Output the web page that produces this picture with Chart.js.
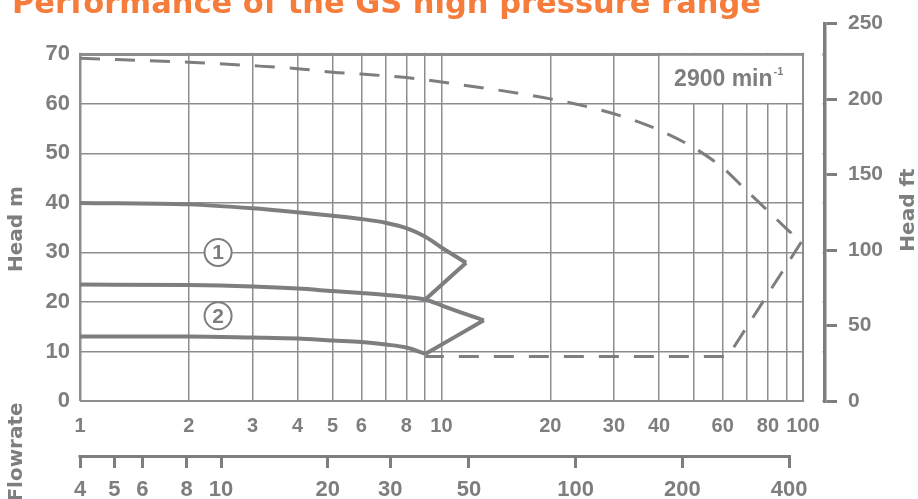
<!DOCTYPE html>
<html>
<head>
<meta charset="utf-8">
<style>
  html, body { margin: 0; padding: 0; background: #fff; }
</style>
<script src="https://cdn.jsdelivr.net/npm/chart.js@4.4.0/dist/chart.umd.min.js"></script>
</head>
<body>
<canvas id="grafico" width="918" height="499"></canvas>
<script>
// caudal (escala superior) y altura en m
const curva1Q = [1, 2, 3, 4, 5, 6, 7, 8, 9, 10, 11.7];
const curva1H = [40, 39.7, 38.9, 38.1, 37.4, 36.75, 36.0, 34.9, 33.2, 31.0, 27.9];
const rama1Q = [11.7, 9.02];
const rama1H = [27.9, 20.5];
const curva2Q = [1, 2, 3, 4, 5, 6, 8, 9.02, 10, 11.3, 13.1];
const curva2H = [23.5, 23.4, 23.1, 22.7, 22.2, 21.8, 21.0, 20.5, 19.3, 17.9, 16.3];
const rama2Q = [13.1, 9.02];
const rama2H = [16.3, 9.5];
const curva3Q = [1, 2, 3, 4, 5, 6, 7, 8, 9.02];
const curva3H = [13.0, 13.0, 12.8, 12.6, 12.2, 11.9, 11.4, 10.8, 9.5];
const limiteQ = [1, 2, 3, 4, 5, 6, 8, 10, 20, 30, 40, 50, 60, 70, 80, 90, 99];
const limiteH = [69.2, 68.4, 67.7, 67.1, 66.4, 66.0, 65.3, 64.4, 61.0, 58.0, 54.7, 51.1, 47.1, 42.4, 38.4, 34.8, 32.1];
const limiteBajoQ = [99, 62, 9.02];
const limiteBajoH = [32.1, 9.0, 9.0];
const marcasQ = [2.41, 2.41];
const marcasH = [30, 17.2];
const marcasTexto = ["1", "2"];

// ejes
const ticksQ = [1, 2, 3, 4, 5, 6, 7, 8, 9, 10, 20, 30, 40, 50, 60, 70, 80, 90, 100];
const etiquetasQ = [1, 2, 3, 4, 5, 6, 8, 10, 20, 30, 40, 60, 80, 100];
const ticksGpm = [4, 5, 6, 8, 10, 20, 30, 50, 100, 200, 400];
const ticksHeadM = [0, 10, 20, 30, 40, 50, 60, 70];
const ticksHeadFt = [0, 50, 100, 150, 200, 250];

const titulo = "Performance of the GS high pressure range";
const velocidad = "2900 min";

const gris = "#7e7e81";
const grisGrid = "#8d8d90";
const naranja = "#f57c3b";

const puntos = (qs, hs) => qs.map((q, i) => ({ x: q, y: hs[i] }));

function linea(qs, hs, opts) {
  return Object.assign({
    data: puntos(qs, hs),
    borderColor: gris,
    borderWidth: 4,
    pointRadius: 0,
    cubicInterpolationMode: "monotone",
    fill: false,
    xAxisID: "x",
    yAxisID: "y"
  }, opts || {});
}

const decoracion = {
  id: "decoracion",
  beforeDatasetsDraw(chart) {
    const { ctx, chartArea, scales } = chart;
    const x = scales.x, y = scales.y;
    const x100 = x.getPixelForValue(100);
    const x40 = x.getPixelForValue(40);
    const y70 = y.getPixelForValue(70);
    const y60 = y.getPixelForValue(60);
    ctx.save();
    ctx.fillStyle = "#fff";
    // tapar rejilla fuera del recuadro
    ctx.fillRect(chartArea.left - 3, chartArea.top - 2, chartArea.right - chartArea.left, y70 - 1.5 - chartArea.top + 2);
    ctx.fillRect(x100 + 1.2, chartArea.top - 2, chartArea.right - 2.5 - x100 - 1.2, chartArea.bottom - chartArea.top + 5);
    // recuadro de velocidad
    ctx.fillRect(x40 + 1, y70 + 1.5, x100 - x40 - 2, y60 - y70 - 2.5);
    ctx.fillStyle = gris;
    ctx.textAlign = "left";
    ctx.textBaseline = "alphabetic";
    ctx.font = "bold 23px 'Liberation Sans'";
    ctx.fillText(velocidad, x40 + 15, y60 - 18);
    const w = ctx.measureText(velocidad).width;
    ctx.font = "bold 11px 'Liberation Sans'";
    ctx.fillText("-1", x40 + 15 + w + 1, y60 - 29);
    ctx.restore();
  },
  afterDatasetsDraw(chart) {
    const { ctx } = chart;
    const meta = chart.getDatasetMeta(chart.data.datasets.length - 1);
    ctx.save();
    ctx.fillStyle = gris;
    ctx.font = "bold 21px 'Liberation Sans'";
    ctx.textAlign = "center";
    ctx.textBaseline = "middle";
    meta.data.forEach((p, i) => ctx.fillText(marcasTexto[i], p.x, p.y + 1));
    ctx.restore();
  },
  afterDraw(chart) {
    const { ctx, scales } = chart;
    const x2 = scales.x2;
    ctx.save();
    // linea del eje inferior
    ctx.strokeStyle = gris;
    ctx.lineWidth = 3;
    ctx.beginPath();
    ctx.moveTo(x2.getPixelForValue(4) - 1.5, x2.top + 1.5);
    ctx.lineTo(x2.getPixelForValue(400) + 1.5, x2.top + 1.5);
    ctx.stroke();

    ctx.fillStyle = naranja;
    ctx.font = "bold 30.5px 'DejaVu Sans'";
    ctx.textAlign = "left";
    ctx.textBaseline = "alphabetic";
    ctx.fillText(titulo, 12, 13);

    ctx.fillStyle = gris;
    ctx.font = "bold 20px 'DejaVu Sans'";
    ctx.textAlign = "center";
    ctx.textBaseline = "middle";
    const girado = (texto, cx, cy) => {
      ctx.save();
      ctx.translate(cx, cy);
      ctx.rotate(-Math.PI / 2);
      ctx.fillText(texto, 0, 0);
      ctx.restore();
    };
    girado("Head m", 17, 229);
    girado("Head ft", 909, 210);
    girado("Flowrate", 17, 452);
    ctx.restore();
  }
};

new Chart(document.getElementById("grafico"), {
  type: "line",
  data: {
    datasets: [
      linea(curva1Q, curva1H),
      linea(rama1Q, rama1H),
      linea(curva2Q, curva2H),
      linea(rama2Q, rama2H),
      linea(curva3Q, curva3H),
      linea(limiteQ, limiteH, { borderWidth: 3, borderDash: [20, 15] }),
      linea(limiteBajoQ, limiteBajoH, { borderWidth: 3, borderDash: [20, 15], cubicInterpolationMode: "default", tension: 0 }),
      {
        data: puntos(marcasQ, marcasH),
        showLine: false,
        pointRadius: 13.5,
        pointBorderWidth: 2,
        pointBackgroundColor: "#fff",
        pointBorderColor: gris,
        xAxisID: "x",
        yAxisID: "y"
      }
    ]
  },
  options: {
    responsive: false,
    animation: false,
    events: [],
    layout: { padding: { top: 19, left: 0, right: 0, bottom: 0 } },
    plugins: { legend: { display: false }, tooltip: { enabled: false } },
    scales: {
      x: {
        type: "logarithmic",
        position: "bottom",
        weight: 0,
        min: 1,
        max: 115.1,
        afterBuildTicks: (s) => { s.ticks = ticksQ.map(v => ({ value: v })); },
        afterFit: (s) => { s.height = 54; },
        grid: {
          color: grisGrid,
          drawTicks: false,
          lineWidth: (c) => c.tick && c.tick.value === 1 ? 2.5 : (c.tick && c.tick.value === 100 ? 2 : 1.5)
        },
        border: { display: false },
        ticks: {
          autoSkip: false, maxRotation: 0, minRotation: 0, padding: 13, color: gris,
          font: { family: "'Liberation Sans'", size: 20, weight: "bold" },
          callback: (v) => etiquetasQ.includes(v) ? String(v) : ""
        }
      },
      x2: {
        type: "logarithmic",
        position: "bottom",
        weight: 1,
        min: 4,
        max: 505,
        afterBuildTicks: (s) => { s.ticks = ticksGpm.map(v => ({ value: v })); },
        afterFit: (s) => { s.height = 44; },
        grid: { drawOnChartArea: false, tickLength: 13, lineWidth: 3, color: gris },
        border: { display: false },
        ticks: {
          autoSkip: false, maxRotation: 0, minRotation: 0, padding: 9, color: gris,
          font: { family: "'Liberation Sans'", size: 22, weight: "bold" },
          callback: (v) => String(v)
        }
      },
      y: {
        type: "linear",
        position: "left",
        min: 0,
        max: 76.2,
        afterBuildTicks: (s) => { s.ticks = ticksHeadM.map(v => ({ value: v })); },
        afterFit: (s) => { s.width = 80; },
        grid: {
          color: grisGrid,
          drawTicks: false,
          lineWidth: (c) => c.tick && c.tick.value === 70 ? 3 : (c.tick && c.tick.value === 0 ? 2 : 1.5)
        },
        border: { display: false },
        ticks: {
          padding: 10, color: gris,
          font: { family: "'Liberation Sans'", size: 22, weight: "bold" }
        }
      },
      y2: {
        type: "linear",
        position: "right",
        min: 0,
        max: 250,
        afterBuildTicks: (s) => { s.ticks = ticksHeadFt.map(v => ({ value: v })); },
        afterFit: (s) => { s.width = 93; },
        grid: { drawOnChartArea: false, tickLength: 12, lineWidth: 3, color: gris },
        border: { display: true, width: 3.5, color: gris },
        ticks: {
          padding: 11, color: gris,
          font: { family: "'Liberation Sans'", size: 21, weight: "bold" }
        }
      }
    }
  },
  plugins: [decoracion]
});
</script>
</body>
</html>
